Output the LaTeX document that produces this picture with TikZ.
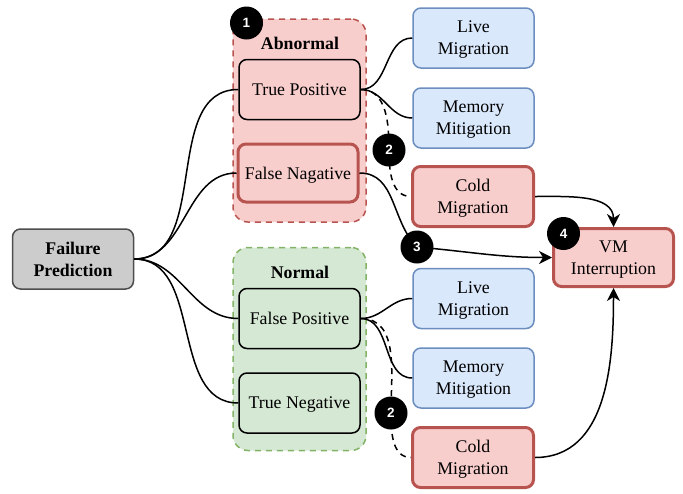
\documentclass[tikz,border=0pt]{standalone}
\usepackage{fontspec}
\setmainfont{Liberation Serif}
\newfontfamily\numfont{Liberation Sans}
\usetikzlibrary{arrows.meta}

\definecolor{redfill}{HTML}{F8CECC}
\definecolor{redline}{HTML}{B85450}
\definecolor{greenfill}{HTML}{D5E8D4}
\definecolor{greenline}{HTML}{82B366}
\definecolor{bluefill}{HTML}{DAE8FC}
\definecolor{blueline}{HTML}{6C8EBF}
\definecolor{grayfill}{HTML}{CCCCCC}
\definecolor{grayline}{HTML}{4D4D4D}

\begin{document}
\begin{tikzpicture}[x=1pt,y=-1pt,>={Stealth[length=13pt,width=13pt,inset=4pt]},
  every node/.style={font=\fontsize{17.8}{22}\selectfont},
  box/.style={draw, rounded corners=8pt, line width=1.5pt, minimum width=121pt,
    minimum height=60pt, inner sep=0pt, align=center, text depth=0pt},
  action/.style={box, fill=bluefill, draw=blueline},
  fault/.style={box, fill=redfill, draw=redline, line width=3pt},
  group/.style={rounded corners=15pt, line width=1.5pt, dash pattern=on 6pt off 5pt,
    minimum width=133pt, minimum height=203pt, inner sep=0pt},
  title/.style={font=\fontsize{17.8}{22}\selectfont\bfseries},
  num/.style={circle, fill=black, text=white, inner sep=0pt, minimum size=33pt,
    font=\numfont\bfseries\fontsize{13.5}{13.5}\selectfont},
  link/.style={line width=1.5pt},
  coldlink/.style={link, dash pattern=on 6pt off 5pt}]
  \useasboundingbox (0,0) rectangle (683,493);

  % groupes
  \node[group, fill=redfill, draw=redline] (abn) at (299.5,120.5) {};
  \node[group, fill=greenfill, draw=greenline] (nor) at (299.5,349) {};
  \node[title] (abntitle) at (300,43) {Abnormal};
  \node[title] (nortitle) at (300,272.5) {Normal};

  % prediction
  \node[box, fill=grayfill, draw=grayline, title] (pred) at (73,259) {Failure\\Prediction};
  \node[box] (tp) at (299.5,89.5) {True Positive};
  \node[fault, minimum width=120pt, minimum height=58pt] (fn) at (298,173) {False Nagative};
  \node[box] (fp) at (299.5,318.5) {False Positive};
  \node[box] (tn) at (299.5,403) {True Negative};

  % actions
  \node[action] (live1) at (473.5,38) {Live\\Migration};
  \node[action] (mem1) at (473.5,118) {Memory\\Mitigation};
  \node[fault] (cold1) at (473,196.5) {Cold\\Migration};
  \node[action] (live2) at (473.5,298.5) {Live\\Migration};
  \node[action] (mem2) at (473.5,378) {Memory\\Mitigation};
  \node[fault] (cold2) at (473,457.5) {Cold\\Migration};
  \node[fault, minimum width=120pt, minimum height=58pt] (vm) at (613.5,257.5) {VM\\Interruption};

  \coordinate (c2a) at (389,150);
  \coordinate (c3) at (417,247);
  \coordinate (c2b) at (391,413);

  % liens
  \draw[link] (pred.east) to[out=0,in=180] (tp.west);
  \draw[link] (pred.east) to[out=0,in=180] (fn.west);
  \draw[link] (pred.east) to[out=0,in=180] (fp.west);
  \draw[link] (pred.east) to[out=0,in=180] (tn.west);

  \draw[link] (tp.east) to[out=0,in=180] (live1.west);
  \draw[link] (tp.east) to[out=0,in=180] (mem1.west);
  \draw[coldlink] (tp.east) to[out=0,in=90] (c2a) to[out=-90,in=180] (cold1.west);
  \draw[link,->] (fn.east) to[out=0,in=135] (c3) to[out=-5,in=180] (vm.west);
  \draw[link,->] (cold1.east) to[out=0,in=90] (vm.north);

  \draw[link] (fp.east) to[out=0,in=180] (live2.west);
  \draw[link] (fp.east) to[out=0,in=180] (mem2.west);
  \draw[coldlink] (fp.east) to[out=0,in=90] (c2b) to[out=-90,in=180] (cold2.west);
  \draw[link,->] (cold2.east) to[out=0,in=-90] (vm.south);

  % numeros
  \node[num] (n1) at (246.5,23) {1};
  \node[num] (n2a) at (c2a) {2};
  \node[num] (n3) at (c3) {3};
  \node[num] (n4) at (563.5,233.5) {4};
  \node[num] (n2b) at (c2b) {2};
\end{tikzpicture}
\end{document}
